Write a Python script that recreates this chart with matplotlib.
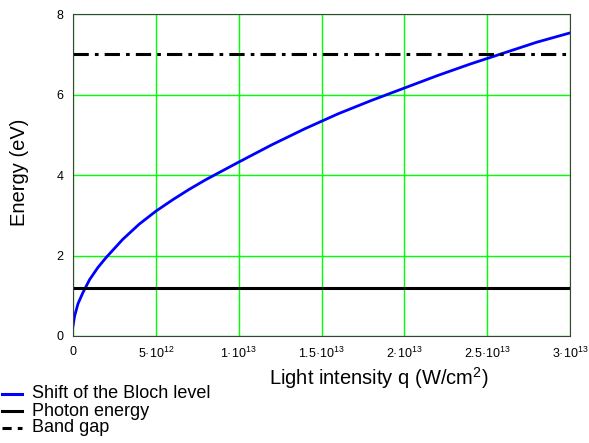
import matplotlib
matplotlib.use("Agg")
import matplotlib.pyplot as plt
from matplotlib.lines import Line2D
import numpy as np

plt.rcParams['font.family'] = ['Liberation Sans', 'DejaVu Sans']
plt.rcParams['mathtext.default'] = 'regular'

# light intensity (units of 1e12 W/cm^2) and Bloch level shift (eV)
q = [0, 0.1, 0.3, 0.6, 1, 1.5, 2, 3, 4, 5, 6, 7, 8, 9, 10, 12, 14, 16, 18, 20, 22, 24, 26, 28, 30]
shift = [0.25, 0.5, 0.8, 1.08, 1.4, 1.7, 1.95, 2.4, 2.78, 3.1, 3.38, 3.64, 3.88, 4.1, 4.32,
         4.75, 5.15, 5.52, 5.85, 6.16, 6.47, 6.76, 7.03, 7.3, 7.53]
photon_energy = 1.2
band_gap = 7.0

xticks = [0, 5e12, 1e13, 1.5e13, 2e13, 2.5e13, 3e13]
xticklabels = ['0', '5·10$^{12}$', '1·10$^{13}$', '1.5·10$^{13}$', '2·10$^{13}$',
               '2.5·10$^{13}$', '3·10$^{13}$']
yticks = [0, 2, 4, 6, 8]
legend_labels = ['Shift of the Bloch level', 'Photon energy', 'Band gap']

W, H = 589, 443
fig = plt.figure(figsize=(W/100, H/100), dpi=100)
ax = fig.add_axes([73/W, 1-336/H, (570-73)/W, (336-14)/H])

qx = np.array(q) * 1e12
ax.plot(qx, shift, color='#0000ff', lw=2.0)
ax.axhline(photon_energy, color='black', lw=2.2)
ax.axhline(band_gap, color='black', lw=2.2, ls=(0, (5, 2, 1.2, 2)))

ax.set_xlim(0, 3e13)
ax.set_ylim(0, 8)
ax.set_xticks(xticks)
ax.set_xticklabels(xticklabels, fontsize=9)
ax.set_yticks(yticks)
ax.set_yticklabels([str(v) for v in yticks], fontsize=9)
ax.tick_params(length=0, pad=7)
ax.grid(True, color='#00ff00', lw=1)
ax.set_axisbelow(True)
for s in ax.spines.values():
    s.set_color('#404040')

fig.text(20/W, 1-172/H, 'Energy (eV)', fontsize=14.5, rotation=90, ha='center', va='center')
fig.text(379/W, 1-378/H, 'Light intensity q (W/cm$^2$)', fontsize=14.5, ha='center', va='center')

# legend below the plot, drawn by hand
styles = [dict(color='#0000ff', lw=2.2, ls='-'),
          dict(color='black', lw=2.2, ls='-'),
          dict(color='black', lw=2.2, ls=(0, (3, 2)))]
rows = [394, 411, 428]
for lab, st, yy in zip(legend_labels, styles, rows):
    fig.add_artist(Line2D([2/W, 22/W], [1-yy/H, 1-yy/H], **st))
    fig.text(32/W, 1-yy/H, lab, fontsize=13, ha='left', va='center')

fig.savefig('out.png', dpi=100)
